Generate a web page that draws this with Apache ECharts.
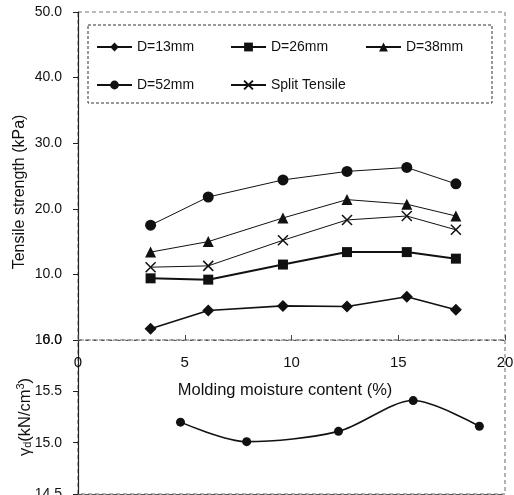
<!DOCTYPE html>
<html>
<head>
<meta charset="utf-8">
<script src="https://cdn.jsdelivr.net/npm/echarts@6/dist/echarts.min.js"></script>
<style>
  html, body { margin: 0; padding: 0; background: #fff; }
  #chart { width: 514px; height: 495px; }
</style>
</head>
<body>
<div id="chart"></div>
<script>
// Molding moisture content (%) at which each tensile series was measured
const moistureTensile = [3.4, 6.1, 9.6, 12.6, 15.4, 17.7];
// Tensile strength (kPa) per specimen diameter
const d13 = [1.7, 4.5, 5.2, 5.1, 6.6, 4.6];
const d26 = [9.4, 9.2, 11.5, 13.4, 13.4, 12.4];
const d38 = [13.4, 15.0, 18.6, 21.4, 20.7, 18.9];
const d52 = [17.5, 21.8, 24.4, 25.7, 26.3, 23.8];
const splitTensile = [11.1, 11.3, 15.2, 18.3, 18.9, 16.8];
// Dry unit weight curve
const moistureDensity = [4.8, 7.9, 12.2, 15.7, 18.8];
const dryUnitWeight = [15.20, 15.01, 15.11, 15.41, 15.16];

const seriesNames = ['D=13mm', 'D=26mm', 'D=38mm', 'D=52mm', 'Split Tensile'];
const xTicks = [0, 5, 10, 15, 20];

const FONT = 'Liberation Sans, Arial, sans-serif';
const INK = '#111';

function pairs(xs, ys) { return xs.map((x, i) => [x, ys[i]]); }

const crossPath = 'path://M0,0L10,10M10,0L0,10';

function tensileSeries(name, values, symbol, size, lineWidth, extra) {
  return Object.assign({
    name: name,
    type: 'line',
    xAxisIndex: 0,
    yAxisIndex: 0,
    data: pairs(moistureTensile, values),
    symbol: symbol,
    symbolSize: size,
    showSymbol: true,
    lineStyle: { color: INK, width: lineWidth },
    itemStyle: { color: INK },
    emphasis: { disabled: true },
    z: 3
  }, extra || {});
}

const legendSlots = [
  { left: 96, top: 40 },
  { left: 230, top: 40 },
  { left: 365, top: 40 },
  { left: 96, top: 78 },
  { left: 230, top: 78 }
];

const option = {
  animation: false,
  backgroundColor: '#fff',
  textStyle: { fontFamily: FONT, color: INK },
  grid: [
    { left: 78, right: 9, top: 12, height: 328, outerBoundsMode: 'none', containLabel: false,
      show: true, borderColor: '#777', borderWidth: 1, borderType: [4, 3] },
    { left: 78, right: 9, top: 340, height: 154, outerBoundsMode: 'none', containLabel: false,
      show: true, borderColor: '#666', borderWidth: 1, borderType: [4, 3] }
  ],
  legend: legendSlots.map((pos, i) => ({
    data: [seriesNames[i]],
    left: pos.left,
    top: pos.top,
    padding: 0,
    itemWidth: 35,
    itemHeight: 11,
    itemGap: 4,
    selectedMode: false,
    textStyle: { fontFamily: FONT, fontSize: 14, color: INK }
  })),
  xAxis: [
    {
      type: 'value', gridIndex: 0, min: 0, max: 20, interval: 5,
      name: 'Molding moisture content (%)',
      nameLocation: 'middle', nameGap: 42, nameMoveOverlap: false,
      nameTextStyle: { fontFamily: FONT, fontSize: 16.5, color: INK, padding: [0, 13, 0, 0] },
      axisLine: { show: true, onZero: false, lineStyle: { color: '#555', width: 1, type: [2, 6] } },
      axisTick: { show: true, inside: true, length: 5, lineStyle: { color: '#444' } },
      axisLabel: { fontFamily: FONT, fontSize: 15, color: INK, margin: 15,
        customValues: xTicks },
      splitLine: { show: false }
    },
    {
      type: 'value', gridIndex: 1, min: 0, max: 20, interval: 5,
      axisLine: { show: true, onZero: false, lineStyle: { color: '#555', width: 1, type: [4, 3] } },
      axisTick: { show: false },
      axisLabel: { show: false },
      splitLine: { show: false }
    }
  ],
  yAxis: [
    {
      type: 'value', gridIndex: 0, min: 0, max: 50, interval: 10,
      name: 'Tensile strength (kPa)',
      nameLocation: 'middle', nameGap: 50, nameMoveOverlap: false,
      nameTextStyle: { fontFamily: FONT, fontSize: 16, color: INK, padding: [0, 32, 0, 0] },
      axisLine: { show: true, lineStyle: { color: '#222', width: 1.2 } },
      axisTick: { show: true, length: 5, lineStyle: { color: '#222' } },
      axisLabel: { fontFamily: FONT, fontSize: 14, color: INK, margin: 16, formatter: v => v.toFixed(1) },
      splitLine: { show: false }
    },
    {
      type: 'value', gridIndex: 1, min: 14.5, max: 16.0, interval: 0.5,
      name: '{g|γ}{s|d}{g|(kN/cm}{p|3}{g|)}',
      nameLocation: 'middle', nameGap: 43, nameMoveOverlap: false,
      nameTextStyle: {
        fontFamily: FONT, color: INK, padding: [0, 0, 0, 0],
        rich: {
          g: { fontFamily: FONT, fontSize: 16.5, color: INK },
          s: { fontFamily: FONT, fontSize: 11, color: INK, padding: [6, 0, 0, 0] },
          p: { fontFamily: FONT, fontSize: 11, color: INK, padding: [0, 0, 9, 0] }
        }
      },
      axisLine: { show: true, lineStyle: { color: '#222', width: 1.2 } },
      axisTick: { show: true, length: 5, lineStyle: { color: '#222' } },
      axisLabel: { fontFamily: FONT, fontSize: 14, color: INK, margin: 16, formatter: v => v.toFixed(1) },
      splitLine: { show: false }
    }
  ],
  graphic: [
    {
      type: 'rect',
      shape: { x: 88, y: 25, width: 404, height: 78 },
      style: { fill: 'none', stroke: '#333', lineWidth: 1, lineDash: [3, 2] },
      z: 1
    }
  ],
  series: [
    tensileSeries('D=13mm', d13, 'diamond', 12, 1.6),
    tensileSeries('D=26mm', d26, 'rect', 10, 2),
    tensileSeries('D=38mm', d38, 'triangle', 11, 1),
    tensileSeries('D=52mm', d52, 'circle', 11, 1),
    tensileSeries('Split Tensile', splitTensile, crossPath, 10, 1, {
      itemStyle: { color: 'none', borderColor: INK, borderWidth: 1.5 }
    }),
    {
      name: 'γd',
      type: 'line',
      xAxisIndex: 1,
      yAxisIndex: 1,
      data: pairs(moistureDensity, dryUnitWeight),
      smooth: 0.3,
      symbol: 'circle',
      symbolSize: 9,
      lineStyle: { color: INK, width: 1.6 },
      itemStyle: { color: INK },
      emphasis: { disabled: true }
    }
  ]
};

const chart = echarts.init(document.getElementById('chart'), null, { renderer: 'canvas' });
chart.setOption(option);
</script>
</body>
</html>
